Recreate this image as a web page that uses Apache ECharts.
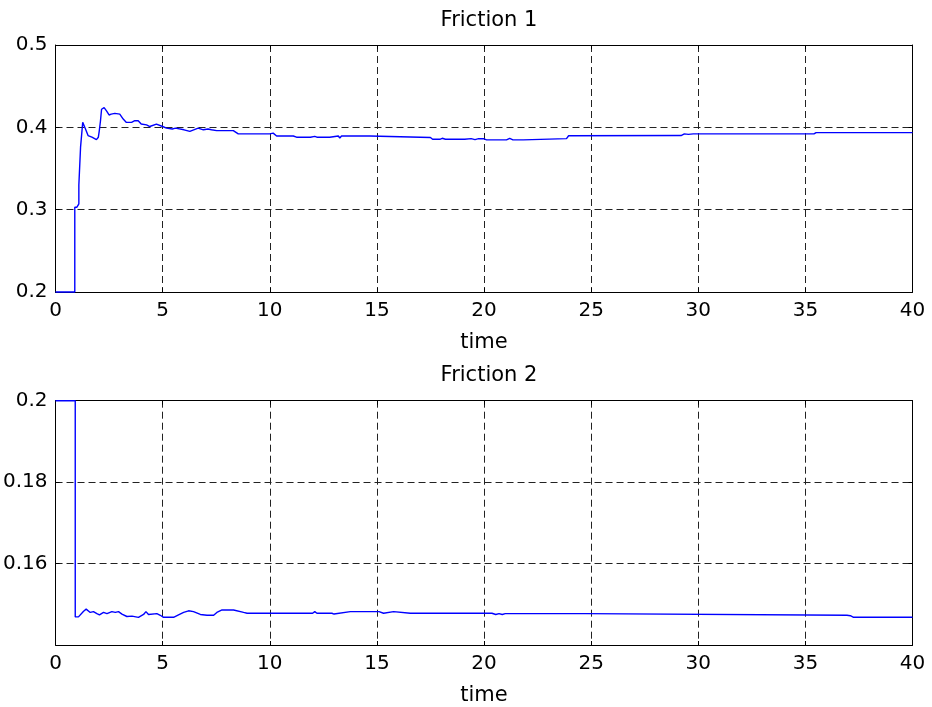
<!DOCTYPE html>
<html>
<head>
<meta charset="utf-8">
<script src="https://cdn.jsdelivr.net/npm/echarts@6/dist/echarts.min.js"></script>
<style>html,body{margin:0;padding:0;background:#fff}#c{width:932px;height:707px}</style>
</head>
<body>
<div id="c"></div>
<script>
// ---- data ----
var titles = ['Friction 1', 'Friction 2'];
var xLabel = 'time';
var xTicks = [0, 5, 10, 15, 20, 25, 30, 35, 40];
var yTicks1 = [0.2, 0.3, 0.4, 0.5];
var yTicks2 = [0.14, 0.16, 0.18, 0.2];

var t1 = [
  0, 0.90, 0.90, 1.00, 1.09, 1.09, 1.17, 1.17, 1.24, 1.27,
  1.34, 1.40, 1.52, 1.70, 1.91, 2.00, 2.04, 2.10, 2.15, 2.22,
  2.27, 2.38, 2.50, 2.60, 2.77, 3.00, 3.16, 3.31, 3.55, 3.70,
  3.78, 3.86, 4.00, 4.25, 4.40, 4.48, 4.71, 4.80, 5.00, 5.18,
  5.45, 5.60, 6.00, 6.27, 6.66, 6.74, 6.90, 7.12, 7.28, 7.52,
  8.30, 8.53, 10.00, 10.16, 10.32, 11.10, 11.25, 11.64, 11.70, 11.90,
  12.10, 12.20, 12.80, 12.85, 13.20, 13.27, 13.35, 14.67, 14.75, 17.50,
  17.60, 17.94, 18.05, 18.20, 19.10, 19.40, 19.58, 19.75, 19.97, 20.12,
  21.05, 21.20, 21.35, 21.83, 21.90, 23.85, 23.95, 29.20, 29.35, 29.54,
  29.77, 35.40, 35.50, 40
];
var v1 = [
  0.200, 0.200, 0.303, 0.303, 0.307, 0.330, 0.331, 0.376, 0.377, 0.406,
  0.408, 0.398, 0.390, 0.388, 0.385, 0.388, 0.395, 0.408, 0.422, 0.424,
  0.424, 0.420, 0.415, 0.416, 0.417, 0.416, 0.410, 0.406, 0.406, 0.408,
  0.410, 0.408, 0.404, 0.403, 0.401, 0.400, 0.404, 0.404, 0.401, 0.399,
  0.398, 0.399, 0.397, 0.395, 0.399, 0.400, 0.397, 0.398, 0.397, 0.396,
  0.396, 0.392, 0.392, 0.393, 0.3895, 0.3895, 0.388, 0.388, 0.389, 0.388,
  0.389, 0.388, 0.388, 0.3895, 0.3895, 0.387, 0.3895, 0.3895, 0.3877, 0.3877,
  0.3855, 0.3855, 0.3867, 0.3855, 0.3855, 0.3863, 0.3851, 0.3862, 0.3862, 0.3848,
  0.3848, 0.3867, 0.3848, 0.3848, 0.3863, 0.3863, 0.3898, 0.3900, 0.3920, 0.3915,
  0.3920, 0.3920, 0.3936, 0.3936
];

var t2 = [
  0, 0.92, 0.92, 1.07, 1.31, 1.43, 1.62, 1.77, 1.93, 2.05,
  2.24, 2.40, 2.63, 2.79, 2.94, 3.10, 3.33, 3.57, 3.64, 3.87,
  4.11, 4.22, 4.34, 4.73, 4.89, 5.04, 5.51, 5.74, 5.98, 6.21,
  6.44, 6.76, 7.07, 7.38, 7.53, 7.77, 8.31, 8.78, 8.94, 12.00,
  12.10, 12.20, 12.90, 13.00, 13.06, 13.76, 15.10, 15.31, 15.78, 16.56,
  20.37, 20.55, 20.70, 20.85, 20.99, 24.73, 24.80, 36.94, 37.00, 37.10,
  37.25, 40
];
var v2 = [
  0.2000, 0.2000, 0.1469, 0.1469, 0.1483, 0.1488, 0.1480, 0.1482, 0.1477, 0.1474,
  0.1480, 0.1477, 0.1482, 0.1480, 0.1482, 0.1476, 0.1470, 0.1471, 0.1468, 0.1468,
  0.1475, 0.1482, 0.1475, 0.1477, 0.1473, 0.1468, 0.1468, 0.1474, 0.1480, 0.1484,
  0.1482, 0.1475, 0.1473, 0.1473, 0.1480, 0.1486, 0.1486, 0.1480, 0.1478, 0.1478,
  0.1482, 0.1478, 0.1478, 0.1476, 0.1478, 0.1482, 0.1482, 0.1478, 0.1482, 0.1478,
  0.1478, 0.1475, 0.1477, 0.1475, 0.1477, 0.1477, 0.1473, 0.1473, 0.1469, 0.1472,
  0.1468, 0.1468
];

// ---- chart ----
function pairs(t, v) { var out = []; for (var i = 0; i < t.length; i++) out.push([t[i], v[i]]); return out; }
var FONT = 'DejaVu Sans';
var TICK_FS = 20, LABEL_FS = 21;
var grids = [
  {left: 55.5, top: 45, width: 857, height: 247},
  {left: 55.5, top: 400.7, width: 857, height: 245}
];
var gridLine = {show: true, showMinLine: false, showMaxLine: false, lineStyle: {color: '#222', type: [7, 4], width: 1}};
function xAxisMain(gi) {
  return {type: 'value', gridIndex: gi, min: xTicks[0], max: xTicks[xTicks.length - 1], interval: xTicks[1] - xTicks[0],
    name: xLabel, nameLocation: 'middle', nameGap: 40,
    nameTextStyle: {fontSize: LABEL_FS, color: '#000', fontFamily: FONT},
    axisLine: {show: true, onZero: false, lineStyle: {color: '#000', width: 1}},
    axisTick: {show: true, inside: true, length: 4, lineStyle: {color: '#000'}},
    axisLabel: {color: '#000', fontSize: TICK_FS, fontFamily: FONT, margin: 9},
    splitLine: gridLine};
}
function xAxisTop(gi) {
  return {type: 'value', gridIndex: gi, position: 'top', min: xTicks[0], max: xTicks[xTicks.length - 1], interval: xTicks[1] - xTicks[0],
    axisLine: {show: true, onZero: false, lineStyle: {color: '#000', width: 1}},
    axisTick: {show: true, inside: true, length: 4, lineStyle: {color: '#000'}},
    axisLabel: {show: false}, splitLine: {show: false}};
}
function yAxisMain(gi, ticks, showMin) {
  return {type: 'value', gridIndex: gi, min: ticks[0], max: ticks[ticks.length - 1], interval: Math.round((ticks[1] - ticks[0]) * 1000) / 1000,
    axisLine: {show: true, onZero: false, lineStyle: {color: '#000', width: 1}},
    axisTick: {show: true, inside: true, length: 4, lineStyle: {color: '#000'}},
    axisLabel: {color: '#000', fontSize: TICK_FS, fontFamily: FONT, margin: 8, showMinLabel: showMin},
    splitLine: gridLine};
}
function yAxisRight(gi, ticks) {
  return {type: 'value', gridIndex: gi, position: 'right', min: ticks[0], max: ticks[ticks.length - 1], interval: Math.round((ticks[1] - ticks[0]) * 1000) / 1000,
    axisLine: {show: true, onZero: false, lineStyle: {color: '#000', width: 1}},
    axisTick: {show: true, inside: true, length: 4, lineStyle: {color: '#000'}},
    axisLabel: {show: false}, splitLine: {show: false}};
}
var option = {
  animation: false,
  backgroundColor: '#fff',
  title: [
    {text: titles[0], left: 484, top: 5, textAlign: 'center', textStyle: {fontSize: LABEL_FS, fontWeight: 'normal', color: '#000', fontFamily: FONT}},
    {text: titles[1], left: 484, top: 360, textAlign: 'center', textStyle: {fontSize: LABEL_FS, fontWeight: 'normal', color: '#000', fontFamily: FONT}}
  ],
  grid: grids,
  xAxis: [xAxisMain(0), xAxisTop(0), xAxisMain(1), xAxisTop(1)],
  yAxis: [yAxisMain(0, yTicks1, true), yAxisRight(0, yTicks1), yAxisMain(1, yTicks2, false), yAxisRight(1, yTicks2)],
  series: [
    {type: 'line', xAxisIndex: 0, yAxisIndex: 0, data: pairs(t1, v1), showSymbol: false, clip: false,
      lineStyle: {color: '#0000ff', width: 1.4}, itemStyle: {color: '#0000ff'}},
    {type: 'line', xAxisIndex: 2, yAxisIndex: 2, data: pairs(t2, v2), showSymbol: false, clip: false,
      lineStyle: {color: '#0000ff', width: 1.4}, itemStyle: {color: '#0000ff'}}
  ]
};
echarts.init(document.getElementById('c'), null, {renderer: 'canvas'}).setOption(option);
</script>
</body>
</html>
